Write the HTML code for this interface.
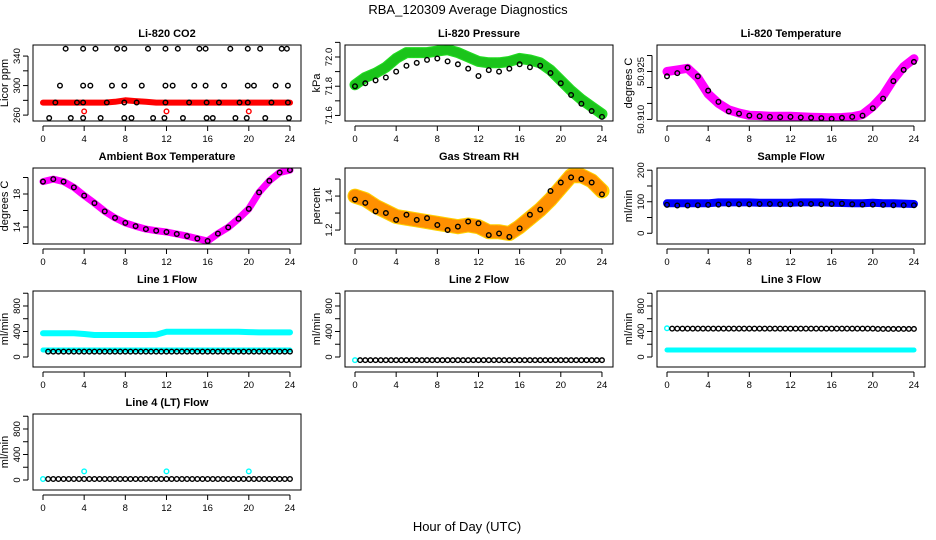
<!DOCTYPE html>
<html><head><meta charset="utf-8"><style>
html,body{margin:0;padding:0;background:#fff;}
svg{display:block;font-family:"Liberation Sans",sans-serif;}
</style></head><body>
<svg id="chart" width="936" height="540" viewBox="0 0 936 540">
<text x="468" y="14" text-anchor="middle" font-size="13">RBA_120309  Average Diagnostics</text>
<text x="467" y="531" text-anchor="middle" font-size="13">Hour of Day (UTC)</text>
</svg>
<script>
// ---- data ----
const hourTicks = [0,4,8,12,16,20,24];
const hours = [0,1,2,3,4,5,6,7,8,9,10,11,12,13,14,15,16,17,18,19,20,21,22,23,24];
const halfHours = [0.5,1,1.5,2,2.5,3,3.5,4,4.5,5,5.5,6,6.5,7,7.5,8,8.5,9,9.5,10,10.5,11,11.5,12,12.5,13,13.5,14,14.5,15,15.5,16,16.5,17,17.5,18,18.5,19,19.5,20,20.5,21,21.5,22,22.5,23,23.5,24];

const co2Hours = [2.2,3.9,5.1,7.2,7.9,10.2,11.9,13.1,15.2,15.8,18.2,19.9,21.1,23.2,23.7,
 1.65,3.9,4.6,6.7,7.9,9.6,11.9,12.6,14.7,15.8,17.6,19.9,20.5,22.6,23.8,
 1.2,3.3,3.9,6.2,7.9,9.1,11.9,14.2,15.9,17.1,19.1,19.9,22.2,23.8,
 0.6,2.7,3.9,5.6,7.9,8.6,10.7,11.8,13.6,15.9,16.5,18.7,19.8,21.6,23.9];
const co2Vals = [350,350,350,350,350,350,350,350,350,350,350,350,350,350,350,
 300,300,300,300,300,300,300,300,300,300,300,300,300,300,300,
 277,277,277,277,277,277,277,277,277,277,277,277,277,277,
 256,256,256,256,256,256,256,256,256,256,256,256,256,256,256];
const co2Red = [277,277,277,277,277,277,277,278,280,279,278,277,277,277,277,277,277,277,277,277,277,277,277,277,277];
const co2RedHours = [4,12,20];
const co2RedOut = [265,265,265];

const presBlack = [71.80,71.82,71.84,71.86,71.90,71.94,71.96,71.98,71.99,71.97,71.95,71.92,71.87,71.91,71.90,71.92,71.95,71.93,71.94,71.89,71.82,71.74,71.68,71.63,71.59];
const presGreen = [71.81,71.86,71.89,71.93,71.99,72.03,72.03,72.03,72.04,72.05,72.03,72.00,71.97,71.96,71.96,71.97,71.99,71.98,71.96,71.91,71.84,71.77,71.71,71.66,71.61];

const tempBlack = [50.9235,50.9245,50.9262,50.9235,50.9190,50.9155,50.9125,50.9118,50.9112,50.9110,50.9108,50.9107,50.9108,50.9106,50.9105,50.9104,50.9102,50.9105,50.9108,50.9112,50.9135,50.9165,50.9220,50.9255,50.9280];
const tempMag = [50.9250,50.9255,50.9260,50.9230,50.9180,50.9150,50.9130,50.9120,50.9113,50.9112,50.9110,50.9110,50.9110,50.9108,50.9107,50.9106,50.9105,50.9106,50.9108,50.9115,50.9140,50.9175,50.9225,50.9265,50.9290];

const ambBlack = [19.5,19.8,19.5,18.8,17.8,16.9,15.9,15.1,14.5,14.1,13.75,13.55,13.4,13.15,12.9,12.6,12.3,13.2,13.95,15.0,16.2,18.2,19.6,20.6,20.9];

const rhBlack = [1.38,1.36,1.31,1.30,1.26,1.29,1.26,1.27,1.23,1.20,1.22,1.25,1.24,1.17,1.18,1.16,1.21,1.29,1.32,1.43,1.48,1.51,1.50,1.48,1.41];
const rhBand = [1.40,1.38,1.34,1.31,1.28,1.27,1.26,1.25,1.24,1.23,1.22,1.23,1.22,1.19,1.19,1.18,1.22,1.27,1.32,1.38,1.45,1.52,1.52,1.49,1.43];

const sampleBlue = [95,95,95,95,95,98,98,98,98,97,97,97,97,98,98,98,97,96,95,95,97,95,95,94,93];
const sampleBlack = [90,88,88,89,90,91,92,92,92,93,93,92,92,93,93,92,93,94,92,91,91,90,89,89,89];

const l1CyanTop = [372,372,372,372,360,345,345,345,345,345,345,350,397,397,397,397,397,397,397,397,390,385,385,385,385];
const l1CyanLow = [110,110,110,110,110,110,110,110,110,110,110,110,110,110,110,110,110,110,110,110,110,110,110,110,110];
const l1Black = [85,85,85,85,85,85,85,85,85,85,85,85,85,85,85,85,85,85,85,85,85,85,85,85,85,85,85,85,85,85,85,85,85,85,85,85,85,85,85,85,85,85,85,85,85,85,85,85];
const l2Black = [-50,-50,-50,-50,-50,-50,-50,-50,-50,-50,-50,-50,-50,-50,-50,-50,-50,-50,-50,-50,-50,-50,-50,-50,-50,-50,-50,-50,-50,-50,-50,-50,-50,-50,-50,-50,-50,-50,-50,-50,-50,-50,-50,-50,-50,-50,-50,-50];
const l3Black = [445,445,445,445,445,445,445,445,445,445,445,445,445,445,445,445,445,445,445,445,445,445,445,445,445,445,445,445,445,445,445,445,445,445,445,445,445,445,445,445,440,440,440,440,440,440,440,440];
const l3Cyan = [110,110,110,110,110,110,110,110,110,110,110,110,110,110,110,110,110,110,110,110,110,110,110,110,110];
const l4Black = [15,15,15,15,15,15,15,15,15,15,15,15,15,15,15,15,15,15,15,15,15,15,15,15,15,15,15,15,15,15,15,15,15,15,15,15,15,15,15,15,15,15,15,15,15,15,15,15];
const l4CyanHours = [0,4,12,20];
const l4CyanVals = [15,135,135,135];

// ---- drawing ----
const NS = "http://www.w3.org/2000/svg";
const svg = document.getElementById("chart");
const colLeft = [33,345,657], rowTop = [45,168,291,414], W = 268, H = 76;
const PXH = 10.29;

function mk(tag, attrs, parent){
  const e = document.createElementNS(NS, tag);
  for (const k in attrs) e.setAttribute(k, attrs[k]);
  (parent||svg).appendChild(e);
  return e;
}

function panel(name, title, col, row, ylab, ymin, ymax, yticks, ylabels){
  const g = mk("g", {});
  
  
  const L = colLeft[col], T = rowTop[row];
  const xs = h => L + 10 + h * PXH;
  const ys = v => T + H - (v - ymin) / (ymax - ymin) * H;
  const cp = mk("clipPath", {id: "clip-" + name}, g);
  mk("rect", {x: L, y: T, width: W, height: H}, cp);
  const plot = mk("g", {"clip-path": "url(#clip-" + name + ")"}, g);
  
  
  const box = mk("rect", {x: L, y: T, width: W, height: H, fill: "none", stroke: "#000", "stroke-width": 1}, g);
  
  
  const t = mk("text", {x: L + W/2, y: T - 8, "text-anchor": "middle", "font-size": 11, "font-weight": "bold"}, g);
  t.textContent = title;
  
  
  const xa = mk("g", {}, g);
  
  
  mk("line", {x1: xs(hourTicks[0]), x2: xs(hourTicks[hourTicks.length-1]), y1: T+H+5, y2: T+H+5, stroke: "#000"}, xa);
  hourTicks.forEach(h => {
    mk("line", {x1: xs(h), x2: xs(h), y1: T+H+5, y2: T+H+10, stroke: "#000"}, xa);
    const tl = mk("text", {x: xs(h), y: T+H+21, "text-anchor": "middle", "font-size": 9.5}, xa);
    tl.textContent = h;
    
    
  });
  const ya = mk("g", {}, g);
  
  
  mk("line", {x1: L-5, x2: L-5, y1: ys(yticks[0]), y2: ys(yticks[yticks.length-1]), stroke: "#000"}, ya);
  yticks.forEach(v => mk("line", {x1: L-10, x2: L-5, y1: ys(v), y2: ys(v), stroke: "#000"}, ya));
  ylabels.forEach(v => {
    const tl = mk("text", {x: 0, y: 0, "text-anchor": "middle", "font-size": 9.5, transform: `translate(${L-13},${ys(v[0])}) rotate(-90)`}, ya);
    tl.textContent = v[1];
    
    
  });
  const yl = mk("text", {x: 0, y: 0, "text-anchor": "middle", "font-size": 11, transform: `translate(${L-25},${T+H/2}) rotate(-90)`}, g);
  yl.textContent = ylab;
  
  
  return {plot, xs, ys};
}

function band(p, xsArr, vals, color, width, name, dash, op){
  const pts = vals.map((v,i) => p.xs(xsArr[i]).toFixed(1) + "," + p.ys(v).toFixed(1)).join(" ");
  const pl = mk("polyline", {points: pts, fill: "none", stroke: color, "stroke-width": width, "stroke-linejoin": "round", "stroke-linecap": "round"}, p.plot);
  if (dash) pl.setAttribute("stroke-dasharray", dash);
  if (op) pl.setAttribute("opacity", op);
  
  
}
function points(p, xsArr, vals, color, name, r){
  vals.forEach((v,i) => {
    const c = mk("circle", {cx: p.xs(xsArr[i]), cy: p.ys(v), r: r||2.3, fill: "none", stroke: color, "stroke-width": 1.4}, p.plot);
    
    
  });
}

let p = panel("co2", "Li-820 CO2", 0, 0, "Licor ppm", 252, 355, [260,280,300,320,340], [[260,"260"],[300,"300"],[340,"340"]]);
band(p, hours, co2Red, "#ff0000", 6, "co2-red-series");
points(p, co2RedHours, co2RedOut, "#ff0000", "co2-red-point");
points(p, co2Hours, co2Vals, "#000", "co2-point");

p = panel("pressure", "Li-820 Pressure", 1, 0, "kPa", 71.562, 72.082, [71.6,71.7,71.8,71.9,72.0,72.1], [[71.6,"71.6"],[71.8,"71.8"],[72.0,"72.0"]]);
band(p, hours, presGreen, "#22dd22", 11, "pressure-green-series");
band(p, hours, presGreen, "#006600", 9, "pressure-green-stipple", "1 3", 0.2);
points(p, hours, presBlack, "#000", "pressure-point");

p = panel("li820-temp", "Li-820 Temperature", 2, 0, "degrees C", 50.9095, 50.9333, [50.910,50.915,50.920,50.925,50.930], [[50.910,"50.910"],[50.925,"50.925"]]);
band(p, hours, tempMag, "#ff00ff", 9, "temp-magenta-series");
points(p, hours, tempBlack, "#000", "temp-point");

p = panel("ambient", "Ambient Box Temperature", 0, 1, "degrees C", 11.94, 21.15, [12,14,16,18,20], [[14,"14"],[18,"18"]]);
band(p, hours, ambBlack, "#ff00ff", 7, "ambient-magenta-series");
points(p, hours, ambBlack, "#000", "ambient-point");

p = panel("rh", "Gas Stream RH", 1, 1, "percent", 1.118, 1.565, [1.2,1.3,1.4,1.5], [[1.2,"1.2"],[1.4,"1.4"]]);
band(p, hours, rhBand, "#ffd000", 15, "rh-orange-series");
band(p, hours, rhBand, "#ff3000", 13, "rh-red-stipple", "1 3", 0.4);
points(p, hours, rhBlack, "#000", "rh-point");

p = panel("sample-flow", "Sample Flow", 2, 1, "ml/min", -34, 207, [0,50,100,150,200], [[0,"0"],[100,"100"],[200,"200"]]);
band(p, hours, sampleBlue, "#0000ff", 8, "sample-blue-series");
points(p, hours, sampleBlack, "#000", "sample-point");

const fMin = -157, fMax = 1035, fT = [0,200,400,600,800,1000], fL = [[0,"0"],[400,"400"],[800,"800"]];
p = panel("line1", "Line 1 Flow", 0, 2, "ml/min", fMin, fMax, fT, fL);
band(p, hours, l1CyanTop, "#00ffff", 6, "line1-cyan-series");
band(p, hours, l1CyanLow, "#00ffff", 5, "line1-cyan-low-series");
points(p, halfHours, l1Black, "#000", "line1-point");
p = panel("line2", "Line 2 Flow", 1, 2, "ml/min", fMin, fMax, fT, fL);
points(p, [0], [-50], "#00ffff", "line2-cyan-point");
points(p, halfHours, l2Black, "#000", "line2-point");
p = panel("line3", "Line 3 Flow", 2, 2, "ml/min", fMin, fMax, fT, fL);
band(p, hours, l3Cyan, "#00ffff", 5, "line3-cyan-series");
points(p, [0], [450], "#00ffff", "line3-cyan-point");
points(p, halfHours, l3Black, "#000", "line3-point");
p = panel("line4", "Line 4 (LT) Flow", 0, 3, "ml/min", fMin, fMax, fT, fL);
points(p, l4CyanHours, l4CyanVals, "#00ffff", "line4-cyan-point");
points(p, halfHours, l4Black, "#000", "line4-point");
</script>
</body></html>
